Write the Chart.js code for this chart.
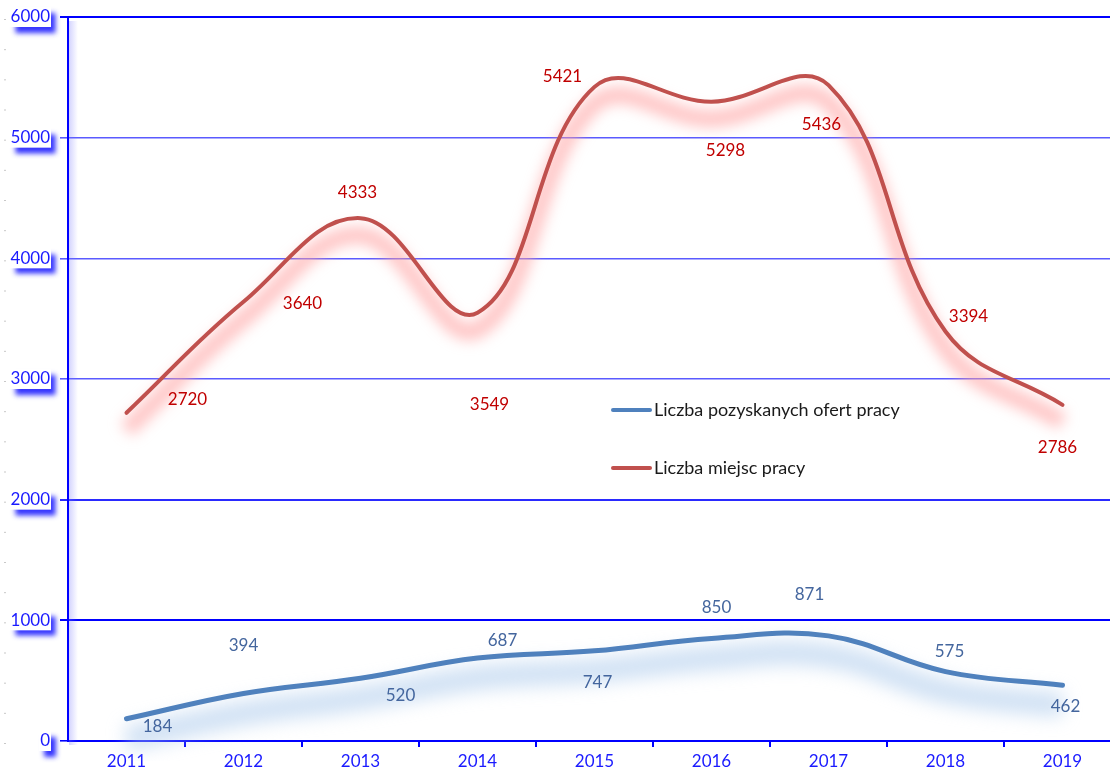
<!DOCTYPE html>
<html>
<head>
<meta charset="utf-8">
<script src="https://cdn.jsdelivr.net/npm/chart.js@4.4.0/dist/chart.umd.min.js"></script>
<style>
  html, body { margin: 0; padding: 0; background: #fff; }
  #wrap { width: 1110px; height: 778px; position: relative; }
</style>
</head>
<body>
<div id="wrap"><canvas id="lineChart"></canvas></div>
<script>
// data
const years = [2011, 2012, 2013, 2014, 2015, 2016, 2017, 2018, 2019];
const ofertyValues = [184, 394, 520, 687, 747, 850, 871, 575, 462];
const miejscaValues = [2720, 3640, 4333, 3549, 5421, 5298, 5436, 3394, 2786];
const yTicks = [0, 1000, 2000, 3000, 4000, 5000, 6000];
const seriesNames = ['Liczba pozyskanych ofert pracy', 'Liczba miejsc pracy'];

// label offsets (px) from each point, as placed in the picture
const ofertyLabelShift = [[31, 8], [0, -48], [40, 17], [25, -18], [3, 32], [5, -31], [-19, -41], [4, -20], [3, 21]];
const miejscaLabelShift = [[61, -13], [59, 2], [-3, -26], [12, 92], [-32, -10], [14, 49], [-7, 39], [23, -15], [-5, 43]];

const FONT = 'Lato, "Open Sans", sans-serif';

// datasets 2 and 3 are the soft glows under the lines
const lineGlow = {
  id: 'lineGlow',
  beforeDatasetDraw(chart, args) {
    if (args.index < 2) return;
    const ctx = chart.ctx;
    ctx.save();
    if (args.index === 2) {
      ctx.filter = 'blur(9px)';
      ctx.translate(0, 20);
    } else {
      ctx.filter = 'blur(7px)';
      ctx.translate(0, 17);
    }
  },
  afterDatasetDraw(chart, args) {
    if (args.index < 2) return;
    chart.ctx.restore();
  }
};

const extras = {
  id: 'extras',
  afterDraw(chart) {
    const ctx = chart.ctx;
    const xs = chart.scales.x, ys = chart.scales.y;
    const area = chart.chartArea;

    // y tick labels with boxed shadow
    ctx.save();
    ctx.font = '17px ' + FONT;
    ctx.textBaseline = 'middle';
    ctx.textAlign = 'right';
    yTicks.forEach(v => {
      const y = ys.getPixelForValue(v);
      const w = ctx.measureText(String(v)).width;
      ctx.save();
      ctx.shadowColor = 'rgba(30,30,255,0.9)';
      ctx.shadowBlur = 5;
      ctx.shadowOffsetX = 5;
      ctx.shadowOffsetY = 6;
      ctx.fillStyle = '#fff';
      ctx.fillRect(50 - w - 1, y - 10, w + 2, 20);
      ctx.restore();
      ctx.fillStyle = '#1a1aff';
      ctx.fillText(String(v), 50, y);
    });
    // small grey marks at the far left
    ctx.fillStyle = '#c8c8c8';
    for (let v = 0; v <= 6000; v += 250) {
      ctx.fillRect(4, ys.getPixelForValue(v) + 2, 2, 1);
    }
    ctx.restore();

    // soft glow right of the y axis line
    ctx.save();
    const g = ctx.createLinearGradient(area.left, 0, area.left + 10, 0);
    g.addColorStop(0, 'rgba(120,120,255,0.35)');
    g.addColorStop(1, 'rgba(120,120,255,0)');
    ctx.fillStyle = g;
    ctx.fillRect(area.left + 1, area.top + 4, 10, area.bottom - area.top);
    ctx.restore();

    // data labels
    ctx.save();
    ctx.font = '17px ' + FONT;
    ctx.textAlign = 'center';
    ctx.textBaseline = 'middle';
    const sets = [[ofertyValues, ofertyLabelShift, '#44669e'], [miejscaValues, miejscaLabelShift, '#c00000']];
    sets.forEach(([vals, shift, col]) => {
      ctx.fillStyle = col;
      vals.forEach((v, i) => {
        const px = xs.getPixelForValue(years[i]) + shift[i][0];
        const py = ys.getPixelForValue(v) + shift[i][1];
        ctx.fillText(String(v), px, py);
      });
    });
    ctx.restore();

    // legend inside the plot
    ctx.save();
    ctx.lineCap = 'round';
    ctx.lineWidth = 4;
    ctx.font = '18px ' + FONT;
    ctx.textBaseline = 'middle';
    ctx.textAlign = 'left';
    const legendRows = [[seriesNames[0], '#4f81bd', 410], [seriesNames[1], '#c0504d', 468]];
    legendRows.forEach(([txt, col, y]) => {
      ctx.strokeStyle = col;
      ctx.beginPath();
      ctx.moveTo(613, y);
      ctx.lineTo(650, y);
      ctx.stroke();
      ctx.fillStyle = '#1a1a1a';
      ctx.fillText(txt, 654, y);
    });
    ctx.restore();
  }
};

const xTickValues = [];
years.forEach((y, i) => {
  xTickValues.push(y);
  if (i < years.length - 1) xTickValues.push(y + 0.5);
});

const ofertyPoints = years.map((y, i) => ({ x: y, y: ofertyValues[i] }));
const miejscaPoints = years.map((y, i) => ({ x: y, y: miejscaValues[i] }));

new Chart(document.getElementById('lineChart'), {
  type: 'line',
  data: {
    datasets: [
      {
        label: seriesNames[0],
        data: ofertyPoints,
        borderColor: '#4f81bd',
        borderWidth: 5,
        borderCapStyle: 'round',
        pointRadius: 0,
        tension: 0.4,
        fill: false
      },
      {
        label: seriesNames[1],
        data: miejscaPoints,
        borderColor: '#c0504d',
        borderWidth: 4,
        borderCapStyle: 'round',
        pointRadius: 0,
        tension: 0.4,
        fill: false
      },
      {
        label: 'glow1',
        data: ofertyPoints,
        borderColor: 'rgba(170,200,235,0.55)',
        borderWidth: 24,
        pointRadius: 0,
        tension: 0.4,
        fill: false
      },
      {
        label: 'glow2',
        data: miejscaPoints,
        borderColor: 'rgba(255,160,160,0.6)',
        borderWidth: 17,
        pointRadius: 0,
        tension: 0.4,
        fill: false
      }
    ]
  },
  options: {
    responsive: true,
    maintainAspectRatio: false,
    animation: false,
    layout: { padding: { top: 17, right: 0, left: 0, bottom: 0 } },
    plugins: {
      legend: { display: false },
      tooltip: { enabled: false }
    },
    scales: {
      x: {
        type: 'linear',
        min: 2010.5,
        max: 2010.5 + 1042 / 117,
        afterBuildTicks: s => { s.ticks = xTickValues.map(v => ({ value: v })); },
        afterFit: s => { s.height = 37; },
        border: { color: '#0000ff', width: 2 },
        grid: {
          drawOnChartArea: false,
          tickLength: 6,
          color: c => (c.tick && !Number.isInteger(c.tick.value)) ? '#0000ff' : 'rgba(0,0,0,0)',
          lineWidth: 2
        },
        ticks: {
          autoSkip: false,
          maxRotation: 0,
          padding: 4,
          color: '#1a1aff',
          font: { family: FONT, size: 17 },
          callback: v => Number.isInteger(v) ? String(v) : ''
        }
      },
      y: {
        min: 0,
        max: 6000,
        afterBuildTicks: s => { s.ticks = yTicks.map(v => ({ value: v })); },
        afterFit: s => { s.width = 68; },
        border: { color: '#0000ff', width: 2 },
        grid: {
          color: c => {
            const v = c.tick ? c.tick.value : -1;
            if ([0, 1000, 6000].includes(v)) return '#0000ff';
            if (v === 2000) return '#2a2aff';
            return '#5a5aff';
          },
          lineWidth: c => (c.tick && [1000, 2000, 6000].includes(c.tick.value)) ? 2 : 1.6,
          tickLength: 8
        },
        ticks: {
          color: 'rgba(0,0,0,0)',
          font: { family: FONT, size: 17 }
        }
      }
    }
  },
  plugins: [lineGlow, extras]
});
</script>
</body>
</html>
